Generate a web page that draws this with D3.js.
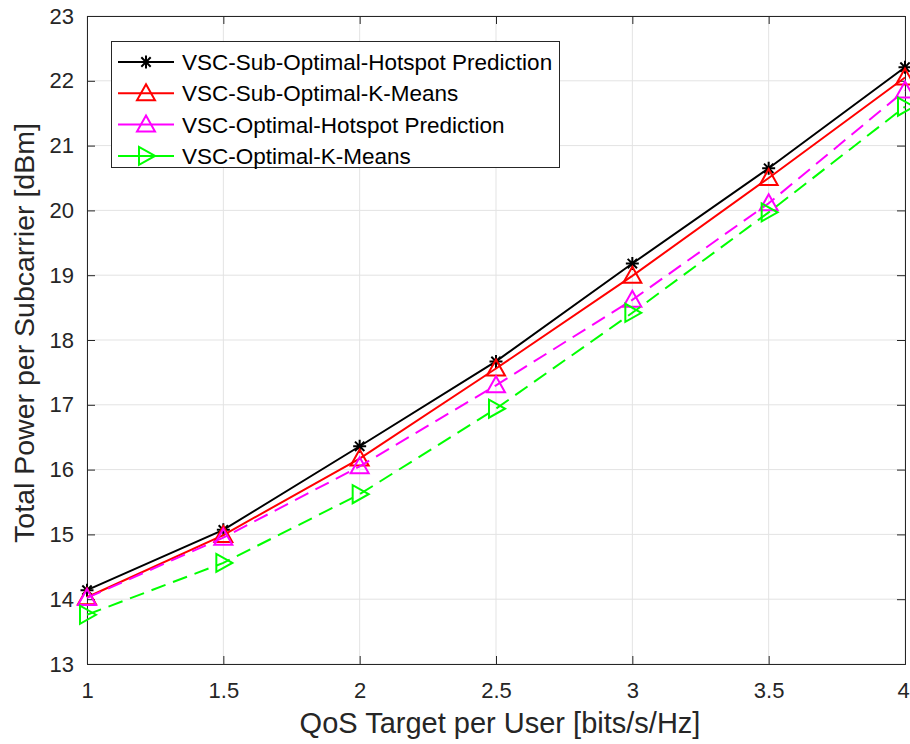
<!DOCTYPE html>
<html>
<head>
<meta charset="utf-8">
<script src="https://cdn.jsdelivr.net/npm/d3@7"></script>
<style>
body { margin: 0; background: #fff; }
text { font-family: "Liberation Sans", Arial, sans-serif; }
</style>
</head>
<body>
<script>
var qos = [1, 1.5, 2, 2.5, 3, 3.5, 4];
var subHotspot = [14.14, 15.07, 16.36, 17.67, 19.18, 20.65, 22.21];
var subKMeans = [14.03, 14.99, 16.17, 17.56, 18.99, 20.5, 22.05];
var optHotspot = [14.02, 14.95, 16.05, 17.3, 18.62, 20.11, 21.85];
var optKMeans = [13.76, 14.56, 15.62, 16.94, 18.42, 19.97, 21.6];
var xTicks = [1, 1.5, 2, 2.5, 3, 3.5, 4];
var yTicks = [13, 14, 15, 16, 17, 18, 19, 20, 21, 22, 23];

var series = [
    {name: "VSC-Sub-Optimal-Hotspot Prediction", values: subHotspot, color: "#000000", dash: null, marker: "star"},
    {name: "VSC-Sub-Optimal-K-Means", values: subKMeans, color: "#ff0000", dash: null, marker: "up"},
    {name: "VSC-Optimal-Hotspot Prediction", values: optHotspot, color: "#ff00ff", dash: "15,8", marker: "up"},
    {name: "VSC-Optimal-K-Means", values: optKMeans, color: "#00ff00", dash: "15,8", marker: "right"}
];

var width = 910, height = 744;
var pLeft = 87, pRight = 905, pTop = 16, pBottom = 664;

var svg = d3.select("body").append("svg")
    .attr("width", width)
    .attr("height", height);

var x = d3.scaleLinear().domain([1, 4]).range([pLeft, pRight]);
var y = d3.scaleLinear().domain([13, 23]).range([pBottom, pTop]);

// grid
svg.append("g").selectAll("line")
    .data(xTicks).enter().append("line")
    .attr("x1", function (d) { return x(d); })
    .attr("x2", function (d) { return x(d); })
    .attr("y1", pTop).attr("y2", pBottom)
    .attr("stroke", "#e3e3e3").attr("stroke-width", 1);
svg.append("g").selectAll("line")
    .data(yTicks).enter().append("line")
    .attr("y1", function (d) { return y(d); })
    .attr("y2", function (d) { return y(d); })
    .attr("x1", pLeft).attr("x2", pRight)
    .attr("stroke", "#e3e3e3").attr("stroke-width", 1);

// axes
var xAx = svg.append("g")
    .attr("transform", "translate(0," + pBottom + ")")
    .call(d3.axisBottom(x).tickValues(xTicks).tickSize(-8).tickPadding(18).tickFormat(d3.format("")));
svg.append("g")
    .attr("transform", "translate(" + pLeft + ",0)")
    .call(d3.axisLeft(y).tickValues(yTicks).tickSize(-8).tickPadding(13).tickFormat(d3.format("")));
svg.append("g")
    .attr("transform", "translate(0," + pTop + ")")
    .call(d3.axisTop(x).tickValues(xTicks).tickSize(-8).tickFormat(""));
svg.append("g")
    .attr("transform", "translate(" + pRight + ",0)")
    .call(d3.axisRight(y).tickValues(yTicks).tickSize(-8).tickFormat(""));

svg.selectAll(".domain").attr("stroke", "#262626").attr("stroke-width", 1);
svg.selectAll(".tick line").attr("stroke", "#262626");
svg.selectAll(".tick text").attr("fill", "#262626").style("font-size", "22px")
    .style("font-family", "'Liberation Sans', Arial, sans-serif");
// keep the last x label inside the window
xAx.selectAll(".tick text").filter(function (d) { return d === 4; }).attr("dx", -2);

// axis labels
svg.append("text")
    .attr("x", (pLeft + pRight) / 2 + 4).attr("y", 733)
    .attr("text-anchor", "middle")
    .attr("fill", "#262626")
    .style("font-size", "29px")
    .text("QoS Target per User [bits/s/Hz]");
svg.append("text")
    .attr("transform", "translate(34," + ((pTop + pBottom) / 2 - 7) + ") rotate(-90)")
    .attr("text-anchor", "middle")
    .attr("fill", "#262626")
    .style("font-size", "28.5px")
    .text("Total Power per Subcarrier [dBm]");

var line = d3.line()
    .x(function (d, i) { return x(qos[i]); })
    .y(function (d) { return y(d); });

function drawMarker(g, type, color) {
    if (type === "star") {
        var r = 6.5;
        var p = "M" + (-r) + ",0L" + r + ",0M0," + (-r) + "L0," + r +
            "M" + (-r * 0.72) + "," + (-r * 0.72) + "L" + (r * 0.72) + "," + (r * 0.72) +
            "M" + (-r * 0.72) + "," + (r * 0.72) + "L" + (r * 0.72) + "," + (-r * 0.72);
        g.append("path").attr("d", p).attr("stroke", color).attr("stroke-width", 2).attr("fill", "none");
    } else if (type === "up") {
        g.append("path").attr("d", "M0,-9L9,7L-9,7Z")
            .attr("stroke", color).attr("stroke-width", 2).attr("fill", "none");
    } else {
        g.append("path").attr("d", "M9,0L-7,-9L-7,9Z")
            .attr("stroke", color).attr("stroke-width", 2).attr("fill", "none");
    }
}

series.forEach(function (s) {
    svg.append("path")
        .datum(s.values)
        .attr("d", line)
        .attr("fill", "none")
        .attr("stroke", s.color)
        .attr("stroke-width", 2)
        .attr("stroke-dasharray", s.dash);
    s.values.forEach(function (v, i) {
        var g = svg.append("g").attr("transform", "translate(" + x(qos[i]) + "," + y(v) + ")");
        drawMarker(g, s.marker, s.color);
    });
});

// legend
var legend = svg.append("g");
legend.append("rect")
    .attr("x", 111.5).attr("y", 41.5).attr("width", 448).attr("height", 126)
    .attr("fill", "#fff").attr("stroke", "#262626").attr("stroke-width", 1);
series.forEach(function (s, i) {
    var ly = 62 + i * 31.3;
    legend.append("line")
        .attr("x1", 118).attr("x2", 174).attr("y1", ly).attr("y2", ly)
        .attr("stroke", s.color).attr("stroke-width", 2);
    var g = legend.append("g").attr("transform", "translate(146," + ly + ")");
    drawMarker(g, s.marker, s.color);
    legend.append("text")
        .attr("x", 182).attr("y", ly + 8)
        .attr("fill", "#000")
        .style("font-size", "22.5px")
        .text(s.name);
});
</script>
</body>
</html>
